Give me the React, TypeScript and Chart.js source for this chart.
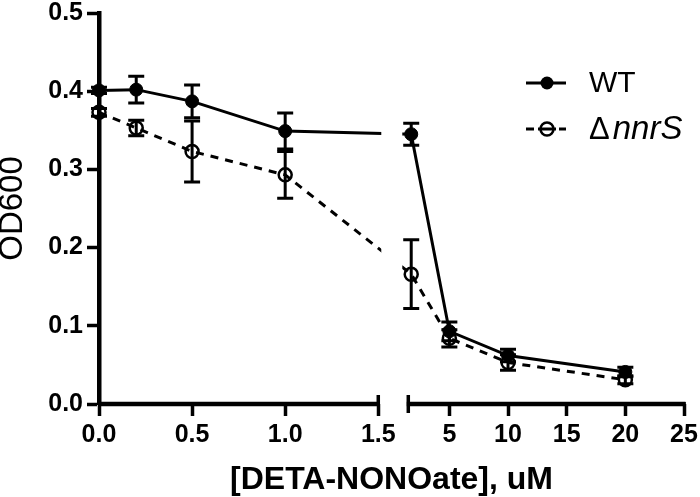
import React, { useEffect, useRef } from 'react';
import { Chart, registerables, LinearScale } from 'chart.js';

// ---- data ----
const X_VALUES = [0, 0.2, 0.5, 1.0, 1.75, 5, 10, 20];
const WT_VALUES = [0.401, 0.402, 0.387, 0.349, 0.345, 0.093, 0.062, 0.041];
const WT_ERRORS = [0.004, 0.017, 0.021, 0.023, 0.014, 0.012, 0.008, 0.006];
const NNRS_VALUES = [0.373, 0.353, 0.323, 0.293, 0.166, 0.084, 0.053, 0.031];
const NNRS_ERRORS = [0.005, 0.010, 0.039, 0.030, 0.044, 0.011, 0.010, 0.005];

const X_TICKS = [0, 0.5, 1.0, 1.5, 5, 10, 15, 20, 25];
const Y_TICKS = [0, 0.1, 0.2, 0.3, 0.4, 0.5];

const SEG1_MIN = 0;
const SEG1_MAX = 1.5;
const SEG2_MIN = 1.5;
const SEG2_MAX = 25;
const SEG1_FRAC = 0.4774;
const GAP_FRAC = 0.0513;

const FONT = '"Liberation Sans", Arial, Helvetica, sans-serif';

class BrokenScale extends LinearScale {
  static id = 'broken';
  static defaults = {};
  buildTicks() {
    return X_TICKS.map((v) => ({ value: v }));
  }
  getPixelForValue(value: number) {
    const s1 = this.width * SEG1_FRAC;
    const g = this.width * GAP_FRAC;
    const s2 = this.width - s1 - g;
    if (value <= SEG1_MAX) return this.left + ((value - SEG1_MIN) / (SEG1_MAX - SEG1_MIN)) * s1;
    return this.left + s1 + g + ((value - SEG2_MIN) / (SEG2_MAX - SEG2_MIN)) * s2;
  }
  getValueForPixel(pixel: number) {
    const s1 = this.width * SEG1_FRAC;
    const g = this.width * GAP_FRAC;
    const s2 = this.width - s1 - g;
    const p = pixel - this.left;
    if (p <= s1) return SEG1_MIN + (p / s1) * (SEG1_MAX - SEG1_MIN);
    return SEG2_MIN + ((p - s1 - g) / s2) * (SEG2_MAX - SEG2_MIN);
  }
}

Chart.register(...registerables, BrokenScale);

const ERRORS = [WT_ERRORS, NNRS_ERRORS];

const errorBarPlugin = {
  id: 'errorBars',
  beforeDatasetsDraw(chart: any) {
    const ctx = chart.ctx;
    const y = chart.scales.y;
    ctx.save();
    ctx.strokeStyle = '#000';
    ctx.lineWidth = 3;
    chart.data.datasets.forEach((ds: any, di: number) => {
      const meta = chart.getDatasetMeta(di);
      meta.data.forEach((pt: any, i: number) => {
        const v = ds.data[i].y;
        const e = ERRORS[di][i];
        const top = y.getPixelForValue(v + e);
        const bot = y.getPixelForValue(v - e);
        const x = pt.x;
        ctx.beginPath();
        ctx.moveTo(x, top);
        ctx.lineTo(x, bot);
        ctx.moveTo(x - 8, top);
        ctx.lineTo(x + 8, top);
        ctx.moveTo(x - 8, bot);
        ctx.lineTo(x + 8, bot);
        ctx.stroke();
      });
    });
    ctx.restore();
  },
};

const brokenAxisPlugin = {
  id: 'brokenAxis',
  afterDatasetsDraw(chart: any) {
    const ctx = chart.ctx;
    const xs = chart.scales.x;
    const area = chart.chartArea;
    const endLeft = xs.getPixelForValue(SEG1_MAX);
    const startRight = xs.getPixelForValue(SEG2_MIN + 1e-9);
    ctx.save();
    // break gap
    ctx.fillStyle = '#fff';
    ctx.fillRect(endLeft + 3, area.top - 5, startRight - endLeft - 9, area.bottom - area.top + 4);
    // axis segments
    ctx.strokeStyle = '#000';
    ctx.lineWidth = 4.5;
    ctx.beginPath();
    ctx.moveTo(area.left, area.bottom);
    ctx.lineTo(endLeft + 1.5, area.bottom);
    ctx.moveTo(startRight - 1.5, area.bottom);
    ctx.lineTo(area.right + 1.5, area.bottom);
    ctx.stroke();
    // segment end caps
    ctx.lineWidth = 3.5;
    ctx.beginPath();
    ctx.moveTo(endLeft, area.bottom - 9);
    ctx.lineTo(endLeft, area.bottom);
    ctx.moveTo(startRight, area.bottom - 9);
    ctx.lineTo(startRight, area.bottom + 9);
    ctx.moveTo(area.right, area.bottom - 2);
    ctx.lineTo(area.right, area.bottom + 2);
    ctx.stroke();
    ctx.restore();
  },
};

const legendPlugin = {
  id: 'customLegend',
  afterDraw(chart: any) {
    const ctx = chart.ctx;
    ctx.save();
    ctx.strokeStyle = '#000';
    ctx.fillStyle = '#000';
    ctx.lineWidth = 3;
    // WT
    const y1 = 83;
    ctx.beginPath();
    ctx.moveTo(526, y1);
    ctx.lineTo(566, y1);
    ctx.stroke();
    ctx.beginPath();
    ctx.arc(547, y1, 6.5, 0, Math.PI * 2);
    ctx.fill();
    ctx.font = `30px ${FONT}`;
    ctx.textBaseline = 'middle';
    ctx.textAlign = 'left';
    ctx.fillText('WT', 589, y1 + 1);
    // nnrS
    const y2 = 129;
    ctx.beginPath();
    ctx.moveTo(526, y2);
    ctx.lineTo(534, y2);
    ctx.moveTo(538, y2);
    ctx.lineTo(556, y2);
    ctx.moveTo(559, y2);
    ctx.lineTo(566, y2);
    ctx.stroke();
    ctx.lineWidth = 2.5;
    ctx.beginPath();
    ctx.arc(547, y2, 6.5, 0, Math.PI * 2);
    ctx.stroke();
    ctx.font = `31px ${FONT}`;
    ctx.fillText('Δ', 589, y2 + 1);
    const dw = ctx.measureText('Δ').width;
    ctx.font = `italic 33px ${FONT}`;
    ctx.fillText('nnrS', 589 + dw + 3, y2 + 1);
    ctx.restore();
  },
};

export default function App() {
  const ref = useRef<HTMLCanvasElement>(null);
  useEffect(() => {
    document.body.style.margin = '0';
    const canvas = ref.current!;
    const chart = new Chart(canvas, {
      type: 'line',
      data: {
        datasets: [
          {
            label: 'WT',
            data: X_VALUES.map((x, i) => ({ x, y: WT_VALUES[i] })),
            borderColor: '#000',
            backgroundColor: '#000',
            borderWidth: 3,
            pointRadius: 6.5,
            pointBorderWidth: 1,
            pointBackgroundColor: '#000',
            pointBorderColor: '#000',
            tension: 0,
            clip: false,
          },
          {
            label: 'ΔnnrS',
            data: X_VALUES.map((x, i) => ({ x, y: NNRS_VALUES[i] })),
            borderColor: '#000',
            backgroundColor: 'rgba(0,0,0,0)',
            borderWidth: 3,
            borderDash: [8, 7],
            pointRadius: 6.5,
            pointBorderWidth: 2.5,
            pointBackgroundColor: 'rgba(0,0,0,0)',
            pointBorderColor: '#000',
            tension: 0,
            clip: false,
          },
        ],
      },
      options: {
        animation: false,
        responsive: false,
        maintainAspectRatio: false,
        layout: { padding: { top: 13, right: 16, left: 0, bottom: 0 } },
        plugins: { legend: { display: false }, tooltip: { enabled: false } },
        scales: {
          x: {
            type: 'broken' as any,
            min: 0,
            max: 25,
            afterFit: (s: any) => {
              s.height = 93;
              s.paddingLeft = 0;
              s.paddingRight = 0;
            },
            grid: {
              drawOnChartArea: false,
              drawTicks: true,
              tickLength: 12,
              tickWidth: 3.5,
              color: '#000',
            },
            border: { display: false },
            ticks: {
              autoSkip: false,
              maxRotation: 0,
              color: '#000',
              padding: 7,
              font: { family: FONT, size: 25, weight: 'bold', lineHeight: 1 },
              callback: (v: any) => (Number(v) <= 1.5 ? Number(v).toFixed(1) : String(v)),
            },
            title: {
              display: true,
              text: '[DETA-NONOate], uM',
              color: '#000',
              font: { family: FONT, size: 32, weight: 'bold' },
              padding: { top: 0, bottom: -2 },
            },
          },
          y: {
            min: 0,
            max: 0.5,
            afterFit: (s: any) => {
              s.width = 99;
              s.paddingTop = 0;
              s.paddingBottom = 0;
            },
            afterBuildTicks: (s: any) => {
              s.ticks = Y_TICKS.map((v) => ({ value: v }));
            },
            grid: {
              drawOnChartArea: false,
              drawTicks: true,
              tickLength: 12,
              tickWidth: 3.5,
              color: '#000',
            },
            border: { display: true, width: 4.5, color: '#000' },
            ticks: {
              color: '#000',
              padding: 4,
              font: { family: FONT, size: 25, weight: 'bold', lineHeight: 1 },
              callback: (v: any) => Number(v).toFixed(1),
            },
            title: {
              display: true,
              text: 'OD600',
              color: '#000',
              font: { family: FONT, size: 33 },
              padding: { top: -7, bottom: 0 },
            },
          },
        },
      },
      plugins: [errorBarPlugin, brokenAxisPlugin, legendPlugin],
    });
    return () => chart.destroy();
  }, []);
  return <canvas ref={ref} width={700} height={497} style={{ display: 'block' }} />;
}
